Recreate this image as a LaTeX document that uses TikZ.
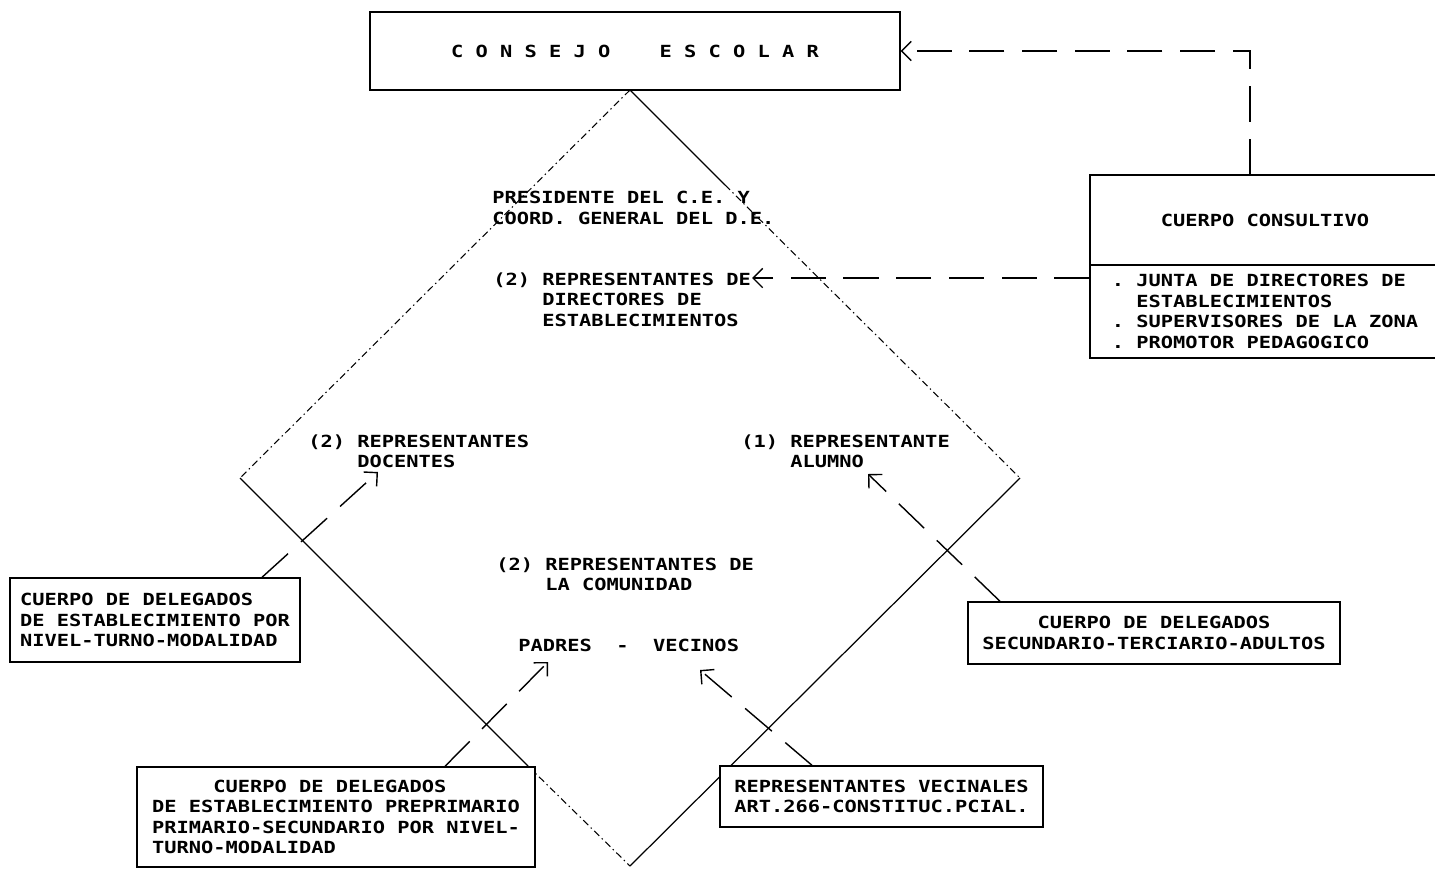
\documentclass[tikz,border=0pt]{standalone}
\usepackage{fontspec}
\newfontfamily\plotfont[FakeStretch=1.22]{DejaVu Sans Mono}
\usetikzlibrary{arrows.meta}

\begin{document}
\begin{tikzpicture}[x=0.02cm,y=-0.02cm,
    every node/.style={font=\plotfont\bfseries\fontsize{9.5}{11.7}\selectfont\frenchspacing},
    box/.style={draw,line width=0.8pt,fill=white,rectangle,inner sep=0pt},
    lbl/.style={anchor=north west,inner sep=0pt,align=left},
    side/.style={line width=0.7pt},
    faint/.style={line width=0.6pt,dash pattern=on 4pt off 2pt on 0.8pt off 2pt},
    link/.style={line width=0.8pt,dash pattern=on 20pt off 10pt,-{Straight Barb[length=5.5pt,width=11pt]}}]
  \useasboundingbox (0,0) rectangle (1435,869);
  \clip (0,0) rectangle (1435,869);

  % rombo
  \coordinate (dtop) at (630,90);
  \coordinate (dleft) at (240,478);
  \coordinate (dright) at (1020,478);
  \coordinate (dbot) at (630,866);
  \draw[faint] (dtop) -- (dleft);
  \draw[side] (dtop) -- (725,185);
  \draw[faint] (725,185) -- (dright);
  \draw[side] (dleft) -- (528,766);
  \draw[faint] (528,766) -- (dbot);
  \draw[side] (dright) -- (dbot);

  % cajas
  \node[box,minimum width=10.6cm,minimum height=1.56cm] (consejo) at (635,51) {C~O~N~S~E~J~O~~~~E~S~C~O~L~A~R};
  \node[box,minimum width=7cm,minimum height=1.8cm] (ctitle) at (1265,220) {CUERPO~CONSULTIVO};
  \node[box,minimum width=7cm,minimum height=1.86cm,align=left] (clist) at (1265,311.5)
    {.~JUNTA~DE~DIRECTORES~DE\\\phantom{.~}ESTABLECIMIENTOS\\.~SUPERVISORES~DE~LA~ZONA\\.~PROMOTOR~PEDAGOGICO};
  \node[box,minimum width=5.8cm,minimum height=1.68cm,align=left] (delizq) at (155,620)
    {CUERPO~DE~DELEGADOS\\DE~ESTABLECIMIENTO~POR\\NIVEL-TURNO-MODALIDAD};
  \node[box,minimum width=7.44cm,minimum height=1.24cm,align=center] (delder) at (1154,633)
    {CUERPO~DE~DELEGADOS\\SECUNDARIO-TERCIARIO-ADULTOS};
  \node[box,minimum width=7.96cm,minimum height=2cm,align=left] (delbaj) at (336,817)
    {\phantom{CUERP}CUERPO~DE~DELEGADOS\\DE~ESTABLECIMIENTO~PREPRIMARIO\\PRIMARIO-SECUNDARIO~POR~NIVEL-\\TURNO-MODALIDAD};
  \node[box,minimum width=6.46cm,minimum height=1.22cm,align=left] (vecinal) at (881.5,796.5)
    {REPRESENTANTES~VECINALES\\ART.266-CONSTITUC.PCIAL.};

  % textos del rombo
  \node[lbl] (pres) at (492,191) {PRESIDENTE~DEL~C.E.~Y\\COORD.~GENERAL~DEL~D.E.};
  \node[lbl] (dir) at (493,272) {(2)~REPRESENTANTES~DE\\\phantom{(2)~}DIRECTORES~DE\\\phantom{(2)~}ESTABLECIMIENTOS};
  \node[lbl] (doc) at (308,434) {(2)~REPRESENTANTES\\\phantom{(2)~}DOCENTES};
  \node[lbl] (alu) at (741,434) {(1)~REPRESENTANTE\\\phantom{(1)~}ALUMNO};
  \node[lbl] (com) at (496,557) {(2)~REPRESENTANTES~DE\\\phantom{(2)~}LA~COMUNIDAD};
  \node[lbl] (pv) at (518,639) {PADRES~~-~~VECINOS};

  % flechas
  \coordinate (tipdir) at (752,278);
  \coordinate (tipdoc) at (378,472);
  \coordinate (tipalu) at (868,474);
  \coordinate (tippad) at (548,662);
  \coordinate (tipvec) at (700,670);
  \draw[link] (ctitle.north -| 1250,0) -- (1250,51) -- (consejo.east);
  \draw[link] (clist.north west |- 0,278) -- (tipdir);
  \draw[link] (delizq.north -| 262,0) -- (tipdoc);
  \draw[link] (delder.north -| 1000,0) -- (tipalu);
  \draw[link] (delbaj.north -| 445,0) -- (tippad);
  \draw[link] (vecinal.north -| 812,0) -- (tipvec);
\end{tikzpicture}
\end{document}
